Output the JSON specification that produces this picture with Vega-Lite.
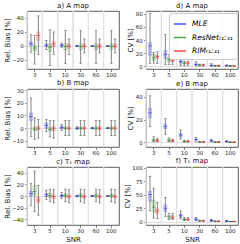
{
"$schema": "https://vega.github.io/schema/vega-lite/v6.json",
"padding": {"left": 2, "top": 1, "right": 2, "bottom": 0},
"datasets": {"box": [
{"p":"a","s":"3","m":"MLE","lo":-9,"q1":1,"md":3,"q3":6,"hi":16},
{"p":"a","s":"3","m":"ResNet","lo":-26,"q1":-7,"md":-3,"q3":1,"hi":15},
{"p":"a","s":"3","m":"RIM","lo":-12,"q1":8,"md":15,"q3":20,"hi":43},
{"p":"a","s":"5","m":"MLE","lo":-5,"q1":-1,"md":1,"q3":3,"hi":8},
{"p":"a","s":"5","m":"ResNet","lo":-28,"q1":-8,"md":-2,"q3":2,"hi":23},
{"p":"a","s":"5","m":"RIM","lo":-12,"q1":-1,"md":3,"q3":6,"hi":20},
{"p":"a","s":"10","m":"MLE","lo":-2,"q1":0,"md":1,"q3":2,"hi":4},
{"p":"a","s":"10","m":"ResNet","lo":-25,"q1":-6,"md":-1,"q3":3,"hi":22},
{"p":"a","s":"10","m":"RIM","lo":-12,"q1":-3,"md":0,"q3":3,"hi":10},
{"p":"a","s":"30","m":"MLE","lo":-1,"q1":-0.3,"md":0,"q3":0.3,"hi":1},
{"p":"a","s":"30","m":"ResNet","lo":-25,"q1":-6,"md":-1,"q3":3,"hi":22},
{"p":"a","s":"30","m":"RIM","lo":-10,"q1":-3,"md":0,"q3":3,"hi":10},
{"p":"a","s":"60","m":"MLE","lo":-0.7,"q1":-0.2,"md":0,"q3":0.2,"hi":0.7},
{"p":"a","s":"60","m":"ResNet","lo":-25,"q1":-6,"md":-1,"q3":3,"hi":22},
{"p":"a","s":"60","m":"RIM","lo":-10,"q1":-3,"md":0,"q3":3,"hi":10},
{"p":"a","s":"100","m":"MLE","lo":-0.5,"q1":-0.15,"md":0,"q3":0.15,"hi":0.5},
{"p":"a","s":"100","m":"ResNet","lo":-25,"q1":-6,"md":-1,"q3":3,"hi":22},
{"p":"a","s":"100","m":"RIM","lo":-10,"q1":-3,"md":0,"q3":3,"hi":10},
{"p":"d","s":"3","m":"MLE","lo":4,"q1":17,"md":31,"q3":36,"hi":80},
{"p":"d","s":"3","m":"ResNet","lo":5,"q1":9,"md":13,"q3":18,"hi":21},
{"p":"d","s":"3","m":"RIM","lo":4,"q1":12,"md":15,"q3":17,"hi":22},
{"p":"d","s":"5","m":"MLE","lo":3,"q1":12,"md":18,"q3":24,"hi":48},
{"p":"d","s":"5","m":"ResNet","lo":3,"q1":7,"md":10,"q3":13,"hi":18},
{"p":"d","s":"5","m":"RIM","lo":3,"q1":7,"md":9,"q3":11,"hi":16},
{"p":"d","s":"10","m":"MLE","lo":1,"q1":5,"md":7,"q3":9,"hi":20},
{"p":"d","s":"10","m":"ResNet","lo":1.5,"q1":3.5,"md":5,"q3":6,"hi":8},
{"p":"d","s":"10","m":"RIM","lo":1.5,"q1":3.5,"md":5,"q3":6,"hi":8},
{"p":"d","s":"30","m":"MLE","lo":0.5,"q1":2,"md":3,"q3":4,"hi":7},
{"p":"d","s":"30","m":"ResNet","lo":0.5,"q1":1.5,"md":2,"q3":2.5,"hi":3.5},
{"p":"d","s":"30","m":"RIM","lo":0.5,"q1":1.5,"md":2,"q3":2.5,"hi":3.5},
{"p":"d","s":"60","m":"MLE","lo":0.3,"q1":1.2,"md":1.7,"q3":2.2,"hi":4},
{"p":"d","s":"60","m":"ResNet","lo":0.3,"q1":0.8,"md":1,"q3":1.2,"hi":1.8},
{"p":"d","s":"60","m":"RIM","lo":0.3,"q1":0.8,"md":1,"q3":1.2,"hi":1.8},
{"p":"d","s":"100","m":"MLE","lo":0.2,"q1":0.7,"md":1,"q3":1.3,"hi":2.2},
{"p":"d","s":"100","m":"ResNet","lo":0.2,"q1":0.5,"md":0.6,"q3":0.7,"hi":1},
{"p":"d","s":"100","m":"RIM","lo":0.2,"q1":0.5,"md":0.6,"q3":0.7,"hi":1},
{"p":"b","s":"3","m":"MLE","lo":-7,"q1":6,"md":9,"q3":12,"hi":24},
{"p":"b","s":"3","m":"ResNet","lo":-9,"q1":-2,"md":-1,"q3":1,"hi":8},
{"p":"b","s":"3","m":"RIM","lo":-8,"q1":-1.5,"md":0,"q3":1.5,"hi":7},
{"p":"b","s":"5","m":"MLE","lo":-3,"q1":0,"md":2,"q3":4,"hi":7},
{"p":"b","s":"5","m":"ResNet","lo":-7,"q1":-2.5,"md":-1,"q3":0.5,"hi":6},
{"p":"b","s":"5","m":"RIM","lo":-8,"q1":-2,"md":0,"q3":1,"hi":6},
{"p":"b","s":"10","m":"MLE","lo":-2,"q1":-0.5,"md":0.5,"q3":1.5,"hi":3},
{"p":"b","s":"10","m":"ResNet","lo":-6,"q1":-1,"md":0,"q3":1,"hi":6},
{"p":"b","s":"10","m":"RIM","lo":-6,"q1":-1,"md":0,"q3":1,"hi":6},
{"p":"b","s":"30","m":"MLE","lo":-1,"q1":-0.3,"md":0,"q3":0.3,"hi":1},
{"p":"b","s":"30","m":"ResNet","lo":-6,"q1":-1,"md":0,"q3":1,"hi":6},
{"p":"b","s":"30","m":"RIM","lo":-6,"q1":-1,"md":0,"q3":1,"hi":6},
{"p":"b","s":"60","m":"MLE","lo":-0.7,"q1":-0.2,"md":0,"q3":0.2,"hi":0.7},
{"p":"b","s":"60","m":"ResNet","lo":-6,"q1":-1,"md":0,"q3":1,"hi":6},
{"p":"b","s":"60","m":"RIM","lo":-6,"q1":-1,"md":0,"q3":1,"hi":6},
{"p":"b","s":"100","m":"MLE","lo":-0.5,"q1":-0.15,"md":0,"q3":0.15,"hi":0.5},
{"p":"b","s":"100","m":"ResNet","lo":-6,"q1":-1,"md":0,"q3":1,"hi":6},
{"p":"b","s":"100","m":"RIM","lo":-6,"q1":-1,"md":0,"q3":1,"hi":6},
{"p":"e","s":"3","m":"MLE","lo":14,"q1":22,"md":26,"q3":30,"hi":41},
{"p":"e","s":"3","m":"ResNet","lo":0.5,"q1":1,"md":2,"q3":3,"hi":5},
{"p":"e","s":"3","m":"RIM","lo":0.5,"q1":1,"md":1.5,"q3":2.5,"hi":3.5},
{"p":"e","s":"5","m":"MLE","lo":7,"q1":12,"md":14,"q3":16,"hi":21},
{"p":"e","s":"5","m":"ResNet","lo":0.5,"q1":1,"md":2,"q3":3,"hi":4},
{"p":"e","s":"5","m":"RIM","lo":0.5,"q1":1,"md":1.5,"q3":2,"hi":3},
{"p":"e","s":"10","m":"MLE","lo":3,"q1":5,"md":6.5,"q3":8,"hi":11},
{"p":"e","s":"10","m":"ResNet","lo":0.3,"q1":0.7,"md":1,"q3":1.3,"hi":2},
{"p":"e","s":"10","m":"RIM","lo":0.3,"q1":0.7,"md":1,"q3":1.3,"hi":2},
{"p":"e","s":"30","m":"MLE","lo":1,"q1":2,"md":2.5,"q3":3,"hi":4.5},
{"p":"e","s":"30","m":"ResNet","lo":0.2,"q1":0.4,"md":0.5,"q3":0.6,"hi":0.9},
{"p":"e","s":"30","m":"RIM","lo":0.2,"q1":0.4,"md":0.5,"q3":0.6,"hi":0.9},
{"p":"e","s":"60","m":"MLE","lo":0.5,"q1":1.2,"md":1.5,"q3":1.8,"hi":2.5},
{"p":"e","s":"60","m":"ResNet","lo":0.1,"q1":0.3,"md":0.4,"q3":0.5,"hi":0.7},
{"p":"e","s":"60","m":"RIM","lo":0.1,"q1":0.3,"md":0.4,"q3":0.5,"hi":0.7},
{"p":"e","s":"100","m":"MLE","lo":0.3,"q1":0.6,"md":0.8,"q3":1,"hi":1.5},
{"p":"e","s":"100","m":"ResNet","lo":0.1,"q1":0.2,"md":0.3,"q3":0.35,"hi":0.5},
{"p":"e","s":"100","m":"RIM","lo":0.1,"q1":0.2,"md":0.3,"q3":0.35,"hi":0.5},
{"p":"c","s":"3","m":"MLE","lo":-16,"q1":0,"md":4,"q3":8,"hi":22},
{"p":"c","s":"3","m":"ResNet","lo":-27,"q1":2,"md":8,"q3":18,"hi":43},
{"p":"c","s":"3","m":"RIM","lo":-33,"q1":-12,"md":-7,"q3":-2,"hi":18},
{"p":"c","s":"5","m":"MLE","lo":-6,"q1":-1,"md":2,"q3":4,"hi":10},
{"p":"c","s":"5","m":"ResNet","lo":-10,"q1":-2,"md":1,"q3":5,"hi":12},
{"p":"c","s":"5","m":"RIM","lo":-12,"q1":-5,"md":-1,"q3":2,"hi":11},
{"p":"c","s":"10","m":"MLE","lo":-4,"q1":-1,"md":0.5,"q3":2,"hi":6},
{"p":"c","s":"10","m":"ResNet","lo":-10,"q1":-2,"md":1,"q3":4,"hi":12},
{"p":"c","s":"10","m":"RIM","lo":-12,"q1":-4,"md":-1,"q3":2,"hi":11},
{"p":"c","s":"30","m":"MLE","lo":-1.5,"q1":-0.5,"md":0,"q3":0.5,"hi":1.5},
{"p":"c","s":"30","m":"ResNet","lo":-10,"q1":-2,"md":1,"q3":4,"hi":12},
{"p":"c","s":"30","m":"RIM","lo":-12,"q1":-4,"md":-1,"q3":2,"hi":11},
{"p":"c","s":"60","m":"MLE","lo":-1,"q1":-0.3,"md":0,"q3":0.3,"hi":1},
{"p":"c","s":"60","m":"ResNet","lo":-10,"q1":-2,"md":1,"q3":4,"hi":12},
{"p":"c","s":"60","m":"RIM","lo":-12,"q1":-4,"md":-1,"q3":2,"hi":11},
{"p":"c","s":"100","m":"MLE","lo":-0.7,"q1":-0.2,"md":0,"q3":0.2,"hi":0.7},
{"p":"c","s":"100","m":"ResNet","lo":-10,"q1":-2,"md":1,"q3":4,"hi":12},
{"p":"c","s":"100","m":"RIM","lo":-12,"q1":-4,"md":-1,"q3":2,"hi":11},
{"p":"f","s":"3","m":"MLE","lo":20,"q1":38,"md":50,"q3":56,"hi":84},
{"p":"f","s":"3","m":"ResNet","lo":7,"q1":18,"md":27,"q3":40,"hi":62},
{"p":"f","s":"3","m":"RIM","lo":6,"q1":15,"md":20,"q3":24,"hi":36},
{"p":"f","s":"5","m":"MLE","lo":10,"q1":19,"md":25,"q3":31,"hi":45},
{"p":"f","s":"5","m":"ResNet","lo":4,"q1":6,"md":9,"q3":12,"hi":16},
{"p":"f","s":"5","m":"RIM","lo":4,"q1":6,"md":8,"q3":11,"hi":15},
{"p":"f","s":"10","m":"MLE","lo":5,"q1":8,"md":11,"q3":14,"hi":20},
{"p":"f","s":"10","m":"ResNet","lo":2,"q1":3,"md":4,"q3":5.5,"hi":7.5},
{"p":"f","s":"10","m":"RIM","lo":2,"q1":3,"md":4,"q3":5.5,"hi":7.5},
{"p":"f","s":"30","m":"MLE","lo":1.5,"q1":3,"md":4.5,"q3":6,"hi":8},
{"p":"f","s":"30","m":"ResNet","lo":0.8,"q1":1.3,"md":1.7,"q3":2.1,"hi":3},
{"p":"f","s":"30","m":"RIM","lo":0.8,"q1":1.3,"md":1.7,"q3":2.1,"hi":3},
{"p":"f","s":"60","m":"MLE","lo":0.7,"q1":1.5,"md":2.3,"q3":3,"hi":4.5},
{"p":"f","s":"60","m":"ResNet","lo":0.4,"q1":0.7,"md":0.9,"q3":1.1,"hi":1.6},
{"p":"f","s":"60","m":"RIM","lo":0.4,"q1":0.7,"md":0.9,"q3":1.1,"hi":1.6},
{"p":"f","s":"100","m":"MLE","lo":0.4,"q1":0.9,"md":1.3,"q3":1.7,"hi":2.5},
{"p":"f","s":"100","m":"ResNet","lo":0.3,"q1":0.5,"md":0.6,"q3":0.7,"hi":1},
{"p":"f","s":"100","m":"RIM","lo":0.3,"q1":0.5,"md":0.6,"q3":0.7,"hi":1}
]},
"data": {"name": "box"},
"columns": 2,
"spacing": {"row": 20, "column": 27},
"bounds": "flush",
"resolve": {"scale": {"x": "independent", "y": "independent"}, "legend": {"color": "independent", "stroke": "independent"}},
"concat": [
{"width": 92, "height": 58, "title": "a) A map", "transform": [{"filter": "datum.p == 'a'"}],
 "layer": [
  {"mark": {"type": "rule", "color": "#e0e0e0", "strokeWidth": 0.8}, "encoding": {"x": {"field": "s", "type": "ordinal", "bandPosition": 0, "sort": ["3","5","10","30","60","100"], "scale": {"paddingInner": 0, "paddingOuter": 0}, "axis": {"title": null, "labelAngle": 0}}}},
  {"encoding": {"x": {"field": "s", "type": "ordinal", "sort": ["3","5","10","30","60","100"], "scale": {"paddingInner": 0, "paddingOuter": 0}, "axis": {"title": null, "labelAngle": 0}}, "xOffset": {"field": "m", "type": "nominal", "sort": ["MLE","ResNet","RIM"], "scale": {"paddingInner": 0, "paddingOuter": 0.6}}},
   "layer": [
    {"mark": {"type": "rule", "color": "#333", "strokeWidth": 0.6}, "encoding": {"y": {"field": "lo", "type": "quantitative", "scale": {"domain": [-33, 50], "nice": false, "zero": false}, "axis": {"title": "Rel. Bias [%]", "values": [-20, 0, 20, 40], "tickCount": 20, "grid": true, "gridColor": {"condition": {"test": "datum.value === 0", "value": "#d4d4d4"}, "value": "transparent"}}}, "y2": {"field": "hi"}}},
    {"mark": {"type": "tick", "orient": "horizontal", "color": "#333", "size": 2.6, "thickness": 0.6}, "encoding": {"y": {"field": "lo", "type": "quantitative"}}},
    {"mark": {"type": "tick", "orient": "horizontal", "color": "#333", "size": 2.6, "thickness": 0.6}, "encoding": {"y": {"field": "hi", "type": "quantitative"}}},
    {"mark": {"type": "bar", "size": 3.2, "fillOpacity": 0.12, "strokeOpacity": 0.4, "strokeWidth": 0.5}, "encoding": {"y": {"field": "q1", "type": "quantitative"}, "y2": {"field": "q3"}, "color": {"field": "m", "type": "nominal", "scale": {"domain": ["MLE","ResNet","RIM"], "range": ["#0000ff","#008000","#ff0000"]}, "legend": null}, "stroke": {"field": "m", "type": "nominal", "scale": {"domain": ["MLE","ResNet","RIM"], "range": ["#0000ff","#008000","#ff0000"]}, "legend": null}}},
    {"mark": {"type": "tick", "orient": "horizontal", "size": 3.2, "thickness": 0.7}, "encoding": {"y": {"field": "md", "type": "quantitative"}, "color": {"field": "m", "type": "nominal", "legend": null}}}
   ]}
 ]},
{"width": 92, "height": 58, "title": "d) A map", "transform": [{"filter": "datum.p == 'd'"}],
 "layer": [
  {"mark": {"type": "rule", "color": "#e0e0e0", "strokeWidth": 0.8}, "encoding": {"x": {"field": "s", "type": "ordinal", "bandPosition": 0, "sort": ["3","5","10","30","60","100"], "scale": {"paddingInner": 0, "paddingOuter": 0}, "axis": {"title": null, "labelAngle": 0}}}},
  {"encoding": {"x": {"field": "s", "type": "ordinal", "sort": ["3","5","10","30","60","100"], "scale": {"paddingInner": 0, "paddingOuter": 0}, "axis": {"title": null, "labelAngle": 0}}, "xOffset": {"field": "m", "type": "nominal", "sort": ["MLE","ResNet","RIM"], "scale": {"paddingInner": 0, "paddingOuter": 0.6}}},
   "layer": [
    {"mark": {"type": "rule", "color": "#333", "strokeWidth": 0.6}, "encoding": {"y": {"field": "lo", "type": "quantitative", "scale": {"domain": [-4, 84], "nice": false, "zero": false}, "axis": {"title": "CV [%]", "values": [0, 20, 40, 60, 80], "tickCount": 20, "grid": true, "gridColor": {"condition": {"test": "datum.value === 0", "value": "#d4d4d4"}, "value": "transparent"}}}, "y2": {"field": "hi"}}},
    {"mark": {"type": "tick", "orient": "horizontal", "color": "#333", "size": 2.6, "thickness": 0.6}, "encoding": {"y": {"field": "lo", "type": "quantitative"}}},
    {"mark": {"type": "tick", "orient": "horizontal", "color": "#333", "size": 2.6, "thickness": 0.6}, "encoding": {"y": {"field": "hi", "type": "quantitative"}}},
    {"mark": {"type": "bar", "size": 3.2, "fillOpacity": 0.12, "strokeOpacity": 0.4, "strokeWidth": 0.5}, "encoding": {"y": {"field": "q1", "type": "quantitative"}, "y2": {"field": "q3"}, "color": {"field": "m", "type": "nominal", "scale": {"domain": ["MLE","ResNet","RIM"], "range": ["#0000ff","#008000","#ff0000"]}, "legend": {"orient": "top-right", "offset": 1.5, "title": null, "symbolType": "stroke", "symbolSize": 150, "symbolStrokeWidth": 1.5, "symbolOpacity": 1, "labelFontSize": 7.5, "labelFontStyle": "italic", "labelExpr": "datum.label == 'MLE' ? 'MLE' : datum.label + 'ₜ₁:₃₁'", "padding": 4, "rowPadding": 2.5, "cornerRadius": 2.5, "strokeColor": "#cccccc", "fillColor": "rgba(255,255,255,0.85)", "labelOffset": 5}}, "stroke": {"field": "m", "type": "nominal", "scale": {"domain": ["MLE","ResNet","RIM"], "range": ["#0000ff","#008000","#ff0000"]}, "legend": null}}},
    {"mark": {"type": "tick", "orient": "horizontal", "size": 3.2, "thickness": 0.7}, "encoding": {"y": {"field": "md", "type": "quantitative"}, "color": {"field": "m", "type": "nominal"}}}
   ]}
 ]},
{"width": 92, "height": 58, "title": "b) B map", "transform": [{"filter": "datum.p == 'b'"}],
 "layer": [
  {"mark": {"type": "rule", "color": "#e0e0e0", "strokeWidth": 0.8}, "encoding": {"x": {"field": "s", "type": "ordinal", "bandPosition": 0, "sort": ["3","5","10","30","60","100"], "scale": {"paddingInner": 0, "paddingOuter": 0}, "axis": {"title": null, "labelAngle": 0}}}},
  {"encoding": {"x": {"field": "s", "type": "ordinal", "sort": ["3","5","10","30","60","100"], "scale": {"paddingInner": 0, "paddingOuter": 0}, "axis": {"title": null, "labelAngle": 0}}, "xOffset": {"field": "m", "type": "nominal", "sort": ["MLE","ResNet","RIM"], "scale": {"paddingInner": 0, "paddingOuter": 0.6}}},
   "layer": [
    {"mark": {"type": "rule", "color": "#333", "strokeWidth": 0.6}, "encoding": {"y": {"field": "lo", "type": "quantitative", "scale": {"domain": [-15, 31], "nice": false, "zero": false}, "axis": {"title": "Rel. Bias [%]", "values": [-10, 0, 10, 20, 30], "tickCount": 20, "grid": true, "gridColor": {"condition": {"test": "datum.value === 0", "value": "#d4d4d4"}, "value": "transparent"}}}, "y2": {"field": "hi"}}},
    {"mark": {"type": "tick", "orient": "horizontal", "color": "#333", "size": 2.6, "thickness": 0.6}, "encoding": {"y": {"field": "lo", "type": "quantitative"}}},
    {"mark": {"type": "tick", "orient": "horizontal", "color": "#333", "size": 2.6, "thickness": 0.6}, "encoding": {"y": {"field": "hi", "type": "quantitative"}}},
    {"mark": {"type": "bar", "size": 3.2, "fillOpacity": 0.12, "strokeOpacity": 0.4, "strokeWidth": 0.5}, "encoding": {"y": {"field": "q1", "type": "quantitative"}, "y2": {"field": "q3"}, "color": {"field": "m", "type": "nominal", "scale": {"domain": ["MLE","ResNet","RIM"], "range": ["#0000ff","#008000","#ff0000"]}, "legend": null}, "stroke": {"field": "m", "type": "nominal", "scale": {"domain": ["MLE","ResNet","RIM"], "range": ["#0000ff","#008000","#ff0000"]}, "legend": null}}},
    {"mark": {"type": "tick", "orient": "horizontal", "size": 3.2, "thickness": 0.7}, "encoding": {"y": {"field": "md", "type": "quantitative"}, "color": {"field": "m", "type": "nominal", "legend": null}}}
   ]}
 ]},
{"width": 92, "height": 58, "title": "e) B map", "transform": [{"filter": "datum.p == 'e'"}],
 "layer": [
  {"mark": {"type": "rule", "color": "#e0e0e0", "strokeWidth": 0.8}, "encoding": {"x": {"field": "s", "type": "ordinal", "bandPosition": 0, "sort": ["3","5","10","30","60","100"], "scale": {"paddingInner": 0, "paddingOuter": 0}, "axis": {"title": null, "labelAngle": 0}}}},
  {"encoding": {"x": {"field": "s", "type": "ordinal", "sort": ["3","5","10","30","60","100"], "scale": {"paddingInner": 0, "paddingOuter": 0}, "axis": {"title": null, "labelAngle": 0}}, "xOffset": {"field": "m", "type": "nominal", "sort": ["MLE","ResNet","RIM"], "scale": {"paddingInner": 0, "paddingOuter": 0.6}}},
   "layer": [
    {"mark": {"type": "rule", "color": "#333", "strokeWidth": 0.6}, "encoding": {"y": {"field": "lo", "type": "quantitative", "scale": {"domain": [-4, 47], "nice": false, "zero": false}, "axis": {"title": "CV [%]", "values": [0, 20, 40], "tickCount": 20, "grid": true, "gridColor": {"condition": {"test": "datum.value === 0", "value": "#d4d4d4"}, "value": "transparent"}}}, "y2": {"field": "hi"}}},
    {"mark": {"type": "tick", "orient": "horizontal", "color": "#333", "size": 2.6, "thickness": 0.6}, "encoding": {"y": {"field": "lo", "type": "quantitative"}}},
    {"mark": {"type": "tick", "orient": "horizontal", "color": "#333", "size": 2.6, "thickness": 0.6}, "encoding": {"y": {"field": "hi", "type": "quantitative"}}},
    {"mark": {"type": "bar", "size": 3.2, "fillOpacity": 0.12, "strokeOpacity": 0.4, "strokeWidth": 0.5}, "encoding": {"y": {"field": "q1", "type": "quantitative"}, "y2": {"field": "q3"}, "color": {"field": "m", "type": "nominal", "scale": {"domain": ["MLE","ResNet","RIM"], "range": ["#0000ff","#008000","#ff0000"]}, "legend": null}, "stroke": {"field": "m", "type": "nominal", "scale": {"domain": ["MLE","ResNet","RIM"], "range": ["#0000ff","#008000","#ff0000"]}, "legend": null}}},
    {"mark": {"type": "tick", "orient": "horizontal", "size": 3.2, "thickness": 0.7}, "encoding": {"y": {"field": "md", "type": "quantitative"}, "color": {"field": "m", "type": "nominal", "legend": null}}}
   ]}
 ]},
{"width": 92, "height": 58, "title": "c) T₁ map", "transform": [{"filter": "datum.p == 'c'"}],
 "layer": [
  {"mark": {"type": "rule", "color": "#e0e0e0", "strokeWidth": 0.8}, "encoding": {"x": {"field": "s", "type": "ordinal", "bandPosition": 0, "sort": ["3","5","10","30","60","100"], "scale": {"paddingInner": 0, "paddingOuter": 0}, "axis": {"title": "SNR", "labelAngle": 0}}}},
  {"encoding": {"x": {"field": "s", "type": "ordinal", "sort": ["3","5","10","30","60","100"], "scale": {"paddingInner": 0, "paddingOuter": 0}, "axis": {"title": "SNR", "labelAngle": 0}}, "xOffset": {"field": "m", "type": "nominal", "sort": ["MLE","ResNet","RIM"], "scale": {"paddingInner": 0, "paddingOuter": 0.6}}},
   "layer": [
    {"mark": {"type": "rule", "color": "#333", "strokeWidth": 0.6}, "encoding": {"y": {"field": "lo", "type": "quantitative", "scale": {"domain": [-50, 50], "nice": false, "zero": false}, "axis": {"title": "Rel. Bias [%]", "values": [-40, -20, 0, 20, 40], "tickCount": 20, "grid": true, "gridColor": {"condition": {"test": "datum.value === 0", "value": "#d4d4d4"}, "value": "transparent"}}}, "y2": {"field": "hi"}}},
    {"mark": {"type": "tick", "orient": "horizontal", "color": "#333", "size": 2.6, "thickness": 0.6}, "encoding": {"y": {"field": "lo", "type": "quantitative"}}},
    {"mark": {"type": "tick", "orient": "horizontal", "color": "#333", "size": 2.6, "thickness": 0.6}, "encoding": {"y": {"field": "hi", "type": "quantitative"}}},
    {"mark": {"type": "bar", "size": 3.2, "fillOpacity": 0.12, "strokeOpacity": 0.4, "strokeWidth": 0.5}, "encoding": {"y": {"field": "q1", "type": "quantitative"}, "y2": {"field": "q3"}, "color": {"field": "m", "type": "nominal", "scale": {"domain": ["MLE","ResNet","RIM"], "range": ["#0000ff","#008000","#ff0000"]}, "legend": null}, "stroke": {"field": "m", "type": "nominal", "scale": {"domain": ["MLE","ResNet","RIM"], "range": ["#0000ff","#008000","#ff0000"]}, "legend": null}}},
    {"mark": {"type": "tick", "orient": "horizontal", "size": 3.2, "thickness": 0.7}, "encoding": {"y": {"field": "md", "type": "quantitative"}, "color": {"field": "m", "type": "nominal", "legend": null}}}
   ]}
 ]},
{"width": 92, "height": 58, "title": "f) T₁ map", "transform": [{"filter": "datum.p == 'f'"}],
 "layer": [
  {"mark": {"type": "rule", "color": "#e0e0e0", "strokeWidth": 0.8}, "encoding": {"x": {"field": "s", "type": "ordinal", "bandPosition": 0, "sort": ["3","5","10","30","60","100"], "scale": {"paddingInner": 0, "paddingOuter": 0}, "axis": {"title": "SNR", "labelAngle": 0}}}},
  {"encoding": {"x": {"field": "s", "type": "ordinal", "sort": ["3","5","10","30","60","100"], "scale": {"paddingInner": 0, "paddingOuter": 0}, "axis": {"title": "SNR", "labelAngle": 0}}, "xOffset": {"field": "m", "type": "nominal", "sort": ["MLE","ResNet","RIM"], "scale": {"paddingInner": 0, "paddingOuter": 0.6}}},
   "layer": [
    {"mark": {"type": "rule", "color": "#333", "strokeWidth": 0.6}, "encoding": {"y": {"field": "lo", "type": "quantitative", "scale": {"domain": [-6, 101], "nice": false, "zero": false}, "axis": {"title": "CV [%]", "values": [0, 25, 50, 75, 100], "tickCount": 20, "grid": true, "gridColor": {"condition": {"test": "datum.value === 0", "value": "#d4d4d4"}, "value": "transparent"}}}, "y2": {"field": "hi"}}},
    {"mark": {"type": "tick", "orient": "horizontal", "color": "#333", "size": 2.6, "thickness": 0.6}, "encoding": {"y": {"field": "lo", "type": "quantitative"}}},
    {"mark": {"type": "tick", "orient": "horizontal", "color": "#333", "size": 2.6, "thickness": 0.6}, "encoding": {"y": {"field": "hi", "type": "quantitative"}}},
    {"mark": {"type": "bar", "size": 3.2, "fillOpacity": 0.12, "strokeOpacity": 0.4, "strokeWidth": 0.5}, "encoding": {"y": {"field": "q1", "type": "quantitative"}, "y2": {"field": "q3"}, "color": {"field": "m", "type": "nominal", "scale": {"domain": ["MLE","ResNet","RIM"], "range": ["#0000ff","#008000","#ff0000"]}, "legend": null}, "stroke": {"field": "m", "type": "nominal", "scale": {"domain": ["MLE","ResNet","RIM"], "range": ["#0000ff","#008000","#ff0000"]}, "legend": null}}},
    {"mark": {"type": "tick", "orient": "horizontal", "size": 3.2, "thickness": 0.7}, "encoding": {"y": {"field": "md", "type": "quantitative"}, "color": {"field": "m", "type": "nominal", "legend": null}}}
   ]}
 ]}
],
"config": {
 "font": "DejaVu Sans",
 "view": {"stroke": "#333", "strokeWidth": 0.8},
 "axis": {"domain": false, "grid": false, "labelOverlap": false, "labelFontSize": 5.5, "labelColor": "#222", "tickColor": "#333", "tickSize": 2.5, "tickWidth": 0.6, "labelPadding": 1.2, "titleFontSize": 7, "titleFontWeight": "normal", "titleColor": "#111", "titlePadding": 1.5, "gridWidth": 0.8},
 "title": {"fontSize": 7, "fontWeight": "normal", "offset": 2, "color": "#111"}
}
}
